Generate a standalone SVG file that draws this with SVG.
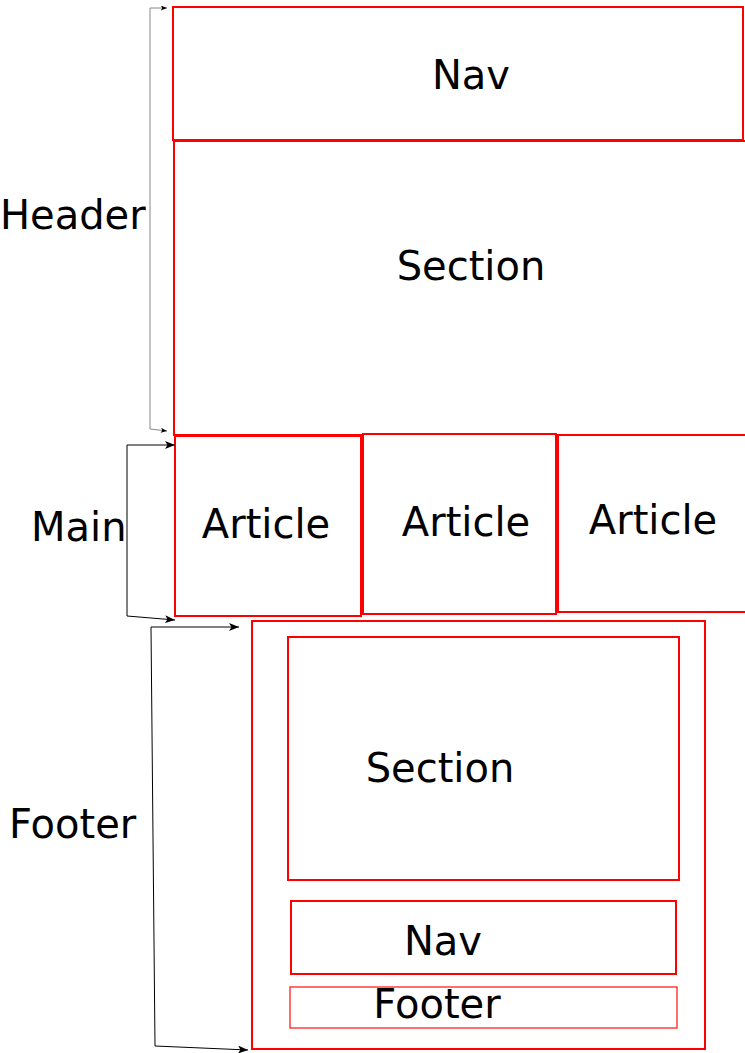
<svg xmlns="http://www.w3.org/2000/svg" width="745" height="1053" viewBox="0 0 745 1053">
<style>
.box{fill:#fff;stroke:#ff0000;stroke-width:2}
.thin{fill:#fff;stroke:#ff2020;stroke-width:1.3}
.lbl{font-family:"DejaVu Sans",sans-serif;font-size:40px;fill:#000;text-anchor:middle}
.side{font-family:"DejaVu Sans",sans-serif;font-size:40px;fill:#000}
.conn{fill:none;stroke:#000;stroke-width:1}
.gray{stroke:#888}
</style>
<defs>
<marker id="ah" viewBox="0 0 10 8" refX="10" refY="4" markerWidth="10" markerHeight="8" markerUnits="userSpaceOnUse" orient="auto">
<path d="M0,0 L10,4 L0,8 L2.5,4 Z" fill="#000"/>
</marker>
<marker id="ahs" viewBox="0 0 10 8" refX="10" refY="4" markerWidth="7" markerHeight="5" markerUnits="userSpaceOnUse" orient="auto">
<path d="M0,0 L10,4 L0,8 L2.5,4 Z" fill="#000"/>
</marker>
</defs>
<rect width="745" height="1053" fill="#fff"/>
<g id="nav-top"><rect class="box" x="173" y="7" width="570" height="133"/><text class="lbl" x="471" y="89">Nav</text></g>
<g id="section-top"><rect class="box" x="174" y="141" width="575" height="294"/><text class="lbl" x="471" y="280">Section</text></g>
<g id="article-1"><rect class="box" x="175" y="436" width="186" height="180"/><text class="lbl" x="266" y="538">Article</text></g>
<g id="article-2"><rect class="box" x="363" y="434" width="193" height="180"/><text class="lbl" x="466" y="536">Article</text></g>
<g id="article-3"><rect class="box" x="558" y="435" width="192" height="177"/><text class="lbl" x="653" y="534">Article</text></g>
<g id="footer-outer"><rect class="box" x="252" y="621" width="453" height="428"/></g>
<g id="footer-section"><rect class="box" x="288" y="637" width="391" height="243"/><text class="lbl" x="440" y="782">Section</text></g>
<g id="footer-nav"><rect class="box" x="291" y="901" width="385" height="73"/><text class="lbl" x="443" y="955">Nav</text></g>
<g id="footer-footer"><rect class="thin" x="290" y="987" width="387" height="41"/><text class="lbl" x="437" y="1018">Footer</text></g>
<g id="label-header"><text class="side" x="0" y="229">Header</text></g>
<g id="label-main"><text class="side" x="31" y="541">Main</text></g>
<g id="label-footer"><text class="side" x="9" y="838">Footer</text></g>
<g id="connectors">
<path class="conn gray" d="M150,429 L150,8 L167,8" marker-end="url(#ahs)"/>
<path class="conn gray" d="M150,429 L167,431" marker-end="url(#ahs)"/>
<path class="conn" d="M127,616 L127,445 L175,445" marker-end="url(#ah)"/>
<path class="conn" d="M127,616 L175,620" marker-end="url(#ah)"/>
<path class="conn" d="M155,1046 L151,627 L239,627" marker-end="url(#ah)"/>
<path class="conn" d="M155,1046 L248,1050" marker-end="url(#ah)"/>
</g>
</svg>
